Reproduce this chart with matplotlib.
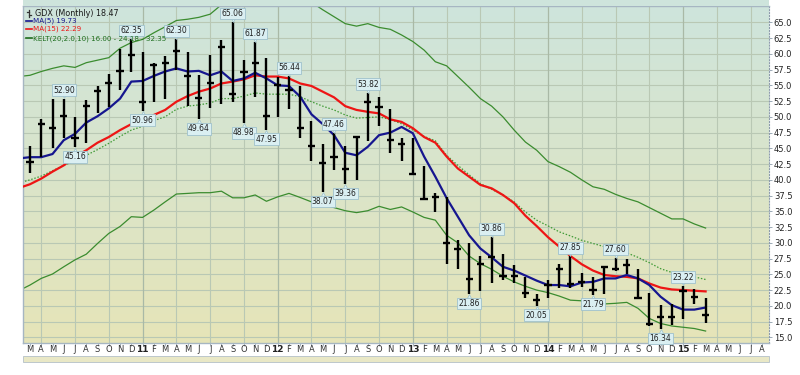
import numpy as np
import matplotlib
matplotlib.use("Agg")
import matplotlib.pyplot as plt
from matplotlib.transforms import offset_copy, blended_transform_factory
from matplotlib.patches import Rectangle

# GDX monthly bars, Mar 2010 .. Mar 2015 (bar 0 = Mar 2010)
highs = [45.4, 49.7, 52.8, 52.90, 49.9, 52.6, 54.9, 56.8, 60.7, 62.35,
         60.3, 58.6, 59.7, 62.30, 60.3, 56.6, 59.8, 62.2, 65.06, 59.1,
         61.87, 59.3, 56.4, 56.44, 54.9, 49.4, 45.7, 47.46, 45.4, 46.8,
         53.82, 53.2, 51.2, 46.7, 46.7, 42.2, 37.9, 37.2, 30.5, 30.0,
         27.9, 30.86, 28.3, 26.5, 24.5, 21.9, 24.1, 26.6, 27.85, 25.2,
         24.5, 26.3, 27.60, 27.4, 25.9, 22.0, 20.1, 20.3, 23.22, 22.6, 21.3]
lows = [41.1, 43.6, 45.0, 46.6, 45.16, 45.9, 50.6, 51.5, 54.2, 57.2,
        50.96, 52.4, 52.9, 57.4, 51.7, 49.64, 51.4, 52.1, 52.4, 48.98,
        53.2, 47.95, 49.9, 51.3, 46.7, 43.0, 38.07, 41.5, 39.36, 39.9,
        46.1, 48.6, 44.2, 43.0, 40.8, 36.8, 34.9, 26.7, 25.8, 21.86,
        22.4, 23.6, 24.1, 23.7, 21.3, 20.05, 21.2, 22.9, 22.9, 23.0,
        21.79, 21.9, 25.6, 25.1, 21.2, 16.8, 16.34, 16.9, 17.9, 20.3, 17.3]
closes = [42.9, 48.8, 48.3, 50.1, 46.7, 51.8, 54.1, 55.3, 57.3, 59.9,
          52.4, 58.2, 58.6, 60.4, 56.5, 53.0, 55.3, 61.1, 53.6, 57.2,
          58.6, 50.1, 55.0, 54.2, 48.3, 45.3, 42.7, 43.7, 41.8, 46.8,
          52.3, 51.5, 46.4, 45.7, 41.0, 36.9, 37.2, 30.0, 29.1, 24.2,
          26.7, 27.7, 24.7, 24.8, 22.0, 20.9, 23.3, 25.8, 23.4, 23.8,
          22.5, 26.2, 25.8, 26.5, 21.3, 17.1, 18.3, 18.3, 22.4, 21.4, 18.47]

# overlay lines, first value is Feb 2010 (just left of the plot edge)
ma5 = [43.4, 43.6, 43.6, 44.1, 46.3, 47.3, 49.1, 50.1, 51.35, 52.9, 55.6,
       55.7, 56.5, 57.2, 57.7, 57.2, 57.3, 56.6, 57.2, 55.7, 56.1,
       57.0, 56.1, 55.0, 54.9, 53.2, 50.4, 48.85, 47.1, 44.3, 43.9,
       45.25, 47.1, 47.5, 48.4, 47.4, 43.7, 40.5, 37.1, 34.15, 31.2,
       29.1, 27.7, 26.2, 25.6, 24.8, 24.0, 23.3, 23.3, 23.1, 23.7,
       23.8, 24.35, 24.35, 24.9, 24.35, 23.3, 21.45, 20.1, 19.4, 19.4, 19.73]
ma15 = [38.7, 39.3, 40.2, 41.3, 42.3, 43.7, 44.7, 45.9, 46.8, 47.9, 48.85,
        49.6, 50.3, 51.1, 52.4, 53.3, 54.0, 54.5, 55.3, 55.6, 55.95,
        56.6, 56.4, 56.4, 56.1, 55.3, 54.9, 54.0, 53.1, 51.7, 51.1,
        50.8, 50.55, 49.6, 49.2, 48.2, 46.8, 45.9, 43.7, 41.8, 40.5,
        39.2, 38.65, 37.6, 36.3, 34.3, 32.66, 30.9, 29.4, 27.9, 26.6,
        25.6, 24.9, 24.7, 24.6, 24.35, 23.55, 22.9, 22.6, 22.5, 22.4, 22.29]
kelt_mid = [39.5, 40.0, 40.6, 41.45, 42.3, 43.0, 43.9, 44.8, 45.8, 46.9, 47.9,
            48.5, 49.4, 50.0, 51.2, 51.7, 51.9, 52.2, 52.9, 52.9, 53.3,
            53.8, 53.6, 53.6, 53.6, 53.2, 52.4, 51.7, 51.1, 50.3, 49.8,
            49.9, 50.0, 49.6, 48.9, 47.9, 46.9, 46.2, 43.9, 42.3, 40.8,
            39.4, 38.5, 37.6, 36.5, 34.9, 33.6, 32.7, 31.75, 31.1, 30.4,
            29.9, 29.4, 29.1, 28.4, 27.7, 26.85, 25.9, 25.3, 25.05, 24.6, 24.18]
kelt_up = [56.4, 56.6, 57.2, 57.7, 58.1, 57.85, 58.6, 59.0, 59.4, 60.9, 61.8,
           62.3, 63.35, 64.3, 65.3, 65.5, 65.8, 66.3, 67.8, 68.8, 69.6,
           70.2, 70.6, 70.4, 69.8, 69.0, 68.2, 67.0, 65.9, 64.8, 64.4,
           64.8, 64.2, 63.9, 63.0, 61.96, 60.6, 58.75, 58.1, 56.4, 54.7,
           52.9, 51.7, 50.0, 47.9, 46.0, 44.7, 42.9, 42.1, 41.2, 40.0,
           38.9, 38.5, 37.7, 37.05, 36.5, 35.6, 34.7, 33.8, 33.8, 33.0, 32.35]
kelt_lo = [22.4, 23.3, 24.36, 25.05, 26.2, 27.3, 28.2, 29.9, 31.5, 32.6, 34.15,
           34.04, 35.2, 36.5, 37.75, 37.85, 37.96, 37.96, 38.2, 37.15, 37.15,
           37.6, 36.6, 37.3, 37.85, 37.2, 36.5, 36.0, 35.6, 35.1, 34.8,
           35.1, 35.8, 35.3, 35.7, 34.9, 34.04, 33.6, 31.2, 30.0, 27.9,
           26.7, 25.8, 24.7, 23.8, 23.1, 22.5, 22.1, 21.55, 20.9, 20.8,
           20.4, 20.3, 20.4, 20.55, 19.6, 18.0, 17.2, 16.8, 16.6, 16.4, 16.0]

high_labels = {3: "52.90", 9: "62.35", 13: "62.30", 18: "65.06", 20: "61.87",
               23: "56.44", 27: "47.46", 30: "53.82", 41: "30.86", 48: "27.85",
               52: "27.60", 58: "23.22"}
low_labels = {4: "45.16", 10: "50.96", 15: "49.64", 19: "48.98", 21: "47.95",
              26: "38.07", 28: "39.36", 39: "21.86", 45: "20.05", 50: "21.79",
              56: "16.34"}

month_letters = "JFMAMJJASOND"
y_ticks = np.arange(15, 65.01, 2.5)

W, H = 800, 375
fig = plt.figure(figsize=(8, 3.75), dpi=100)
fig.patch.set_facecolor("white")

L, R, T, B = 23, 769, 6, 343
ax = fig.add_axes([L / W, 1 - B / H, (R - L) / W, (B - T) / H])

bars = np.arange(len(closes))
line_x = np.arange(-1, len(closes))
ax.set_xlim(-0.62, 65.63)
ax.set_ylim(14.1, 67.6)

# gradient background
top_c = np.array([206, 228, 220]) / 255
bot_c = np.array([230, 229, 184]) / 255
t = np.linspace(0, 1, 256)[:, None]
grad = (top_c[None, :] * (1 - t) + bot_c[None, :] * t)[:, None, :]
ax.imshow(grad, extent=[0, 1, 0, 1], transform=ax.transAxes, aspect="auto",
          zorder=0, interpolation="bilinear")
# strip above the plot frame
fig.patches.append(Rectangle((L / W, 1 - T / H), (R - L) / W, T / H,
                             transform=fig.transFigure, facecolor=top_c,
                             edgecolor="none", zorder=0))

# grid
grid_c = "#b9c8b4"
for v in y_ticks:
    ax.axhline(v, color=grid_c, lw=0.8, zorder=1)
for i in range(1, 66, 3):
    is_year = (2 + i) % 12 == 0
    ax.axvline(i, color="#a9b9a6" if is_year else grid_c, lw=0.9 if is_year else 0.8, zorder=1)

# Keltner channel and moving averages
ax.plot(line_x, kelt_up, color="#3b8c2f", lw=0.9, zorder=2)
ax.plot(line_x, kelt_lo, color="#3b8c2f", lw=0.9, zorder=2)
ax.plot(line_x, kelt_mid, color="#3f9a35", lw=0.9, ls=(0, (1.2, 1.4)), zorder=2)
ax.plot(line_x, ma15, color="#ee1515", lw=1.6, zorder=3)
ax.plot(line_x, ma5, color="#16168f", lw=1.6, zorder=3)

# price bars
ax.vlines(bars, lows, highs, color="black", lw=1.7, zorder=5)
ax.hlines(closes, bars - 0.32, bars + 0.32, color="black", lw=1.7, zorder=5)

# high / low value boxes
box = dict(boxstyle="square,pad=0.18", fc="#daeff2", ec="#9fc1cc", lw=0.6)
up_tr = offset_copy(ax.transData, fig=fig, x=0, y=3.2, units="dots")
dn_tr = offset_copy(ax.transData, fig=fig, x=0, y=-3.2, units="dots")
for i, s in high_labels.items():
    ax.annotate(s, (i, highs[i]), xytext=(0, 8.5), textcoords="offset pixels",
                ha="center", va="center", fontsize=5.5, color="#202020",
                bbox=box, zorder=7)
    ax.plot(i, highs[i], marker="v", ms=4, mfc="#daeff2", mec="#9fc1cc",
            mew=0.5, transform=up_tr, zorder=6)
for i, s in low_labels.items():
    ax.annotate(s, (i, lows[i]), xytext=(0, -9.5), textcoords="offset pixels",
                ha="center", va="center", fontsize=5.5, color="#202020",
                bbox=box, zorder=7)
    ax.plot(i, lows[i], marker="^", ms=4, mfc="#daeff2", mec="#9fc1cc",
            mew=0.5, transform=dn_tr, zorder=6)

# axes frame
for side in ("left", "top", "bottom"):
    ax.spines[side].set_color("#a6b6c2")
    ax.spines[side].set_linewidth(1.0)
ax.spines["right"].set_color("#8c9cab")
ax.spines["right"].set_linestyle(":")

ax.yaxis.tick_right()
ax.set_yticks(y_ticks)
ax.set_yticklabels([f"{v:.1f}" for v in y_ticks])
ax.tick_params(axis="y", length=2, width=0.6, color="#8c9cab", pad=1.5,
               labelsize=6, labelcolor="#222222")
ax.set_xticks(np.arange(66))
ax.set_xticklabels([])
ax.tick_params(axis="x", length=2.5, width=0.6, color="#9aa8b4", direction="out")

# month labels
xt = blended_transform_factory(ax.transData, ax.transAxes)
for i in range(66):
    m = (2 + i) % 12
    if m == 0:
        yr = (2010 + (2 + i) // 12) % 100
        ax.text(i, -0.019, f"{yr:02d}", transform=xt, ha="center", va="center",
                fontsize=6.5, fontweight="bold", color="#222222")
    else:
        ax.text(i, -0.019, month_letters[m], transform=xt, ha="center", va="center",
                fontsize=6, color="#333333")

# bottom panel strip (cut off)
fig.patches.append(Rectangle((L / W, 1 - 362 / H), (R - L) / W, 6 / H,
                             transform=fig.transFigure, facecolor="#e9e8c6",
                             edgecolor="#b4c0c8", lw=0.6, zorder=0))

# legend text
def axy(px):
    return (B - px) / (B - T)

def axx(px):
    return (px - L) / (R - L)

ax.plot([axx(28.5)] * 2, [axy(17), axy(9.5)], color="#333333", lw=0.9,
        transform=ax.transAxes, clip_on=False, zorder=8)
ax.plot([axx(26.5), axx(28.5)], [axy(11.5)] * 2, color="#333333", lw=0.9,
        transform=ax.transAxes, clip_on=False, zorder=8)
ax.plot([axx(28.5), axx(30.5)], [axy(15)] * 2, color="#333333", lw=0.9,
        transform=ax.transAxes, clip_on=False, zorder=8)
ax.text(axx(35), axy(13.3), "GDX (Monthly) 18.47", transform=ax.transAxes,
        fontsize=5.8, color="#1a1a1a", va="center", ha="left", zorder=8)
legend_rows = [("MA(5) 19.73", "#16168f", 20.9),
               ("MA(15) 22.29", "#ee1515", 29.2),
               ("KELT(20,2.0,10) 16.00 - 24.18 - 32.35", "#1f6f1f", 38.3)]
for txt, c, py in legend_rows:
    ax.plot([axx(26), axx(32)], [axy(py)] * 2, color=c, lw=1.2,
            transform=ax.transAxes, clip_on=False, zorder=8)
    ax.text(axx(33), axy(py), txt, transform=ax.transAxes, fontsize=5.1,
            color=c, va="center", ha="left", zorder=8)

fig.savefig("out.png", dpi=100)
